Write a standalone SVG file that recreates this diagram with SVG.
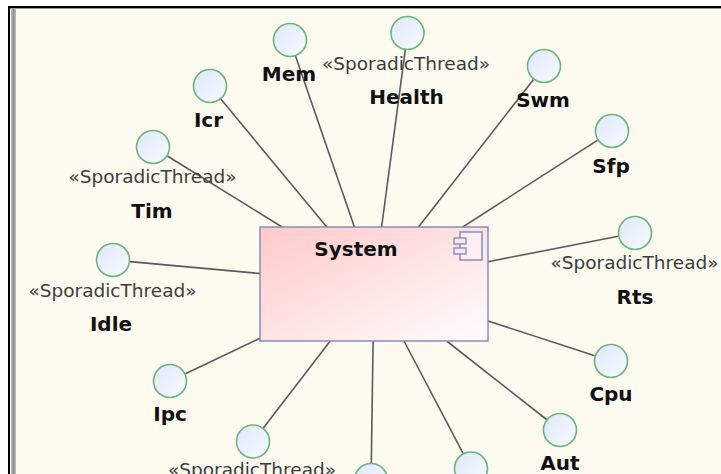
<svg xmlns="http://www.w3.org/2000/svg" width="721" height="474" viewBox="0 0 721 474">
  <defs>
    <linearGradient id="boxFill" x1="0" y1="0" x2="1" y2="1">
      <stop offset="0" stop-color="#FFC9C9"/>
      <stop offset="1" stop-color="#FFFDFD"/>
    </linearGradient>
    <linearGradient id="portFill" x1="0" y1="0" x2="1" y2="1">
      <stop offset="0" stop-color="#DFE9FA"/>
      <stop offset="1" stop-color="#F7FAFF"/>
    </linearGradient>
    <style>
      .port { fill: url(#portFill); stroke: #6DB37D; stroke-width: 1.6; }
      .link { stroke: #5A5A5A; stroke-width: 1.6; fill: none; }
      .name { font-family: "DejaVu Sans", "Liberation Sans", sans-serif; font-weight: bold; font-size: 20px; fill: #111; text-anchor: middle; }
      .stereo { font-family: "DejaVu Sans", "Liberation Sans", sans-serif; font-size: 18.5px; fill: #3C3C3C; text-anchor: middle; }
      .comp { fill: url(#boxFill); stroke: #7F87B8; stroke-width: 1.4; }
      .icon { fill: #FBE6EA; stroke: #7F87B8; stroke-width: 1.3; }
    </style>
  </defs>

  <!-- canvas and frame -->
  <rect x="0" y="0" width="721" height="474" fill="#FFFFFF"/>
  <rect x="10" y="8" width="711" height="466" fill="#FDFBEF"/>
  <rect x="11" y="9" width="5" height="465" fill="#B4B4B4"/>
  <rect x="12.5" y="9" width="2" height="465" fill="#939393"/>
  <rect x="10" y="8" width="711" height="1" fill="#9A9A9A"/>
  <rect x="8" y="6" width="713" height="2" fill="#000000"/>
  <rect x="8" y="6" width="2" height="468" fill="#000000"/>

  <!-- connectors: each port to the System component -->
  <g id="connectors">
    <line class="link" x1="295.5" y1="56.1" x2="354.4" y2="227"/>
    <line class="link" x1="405.3" y1="49.9" x2="381.6" y2="227"/>
    <line class="link" x1="220.8" y1="99.1" x2="326.8" y2="227"/>
    <line class="link" x1="533.5" y1="79.4" x2="418.5" y2="227"/>
    <line class="link" x1="167.4" y1="156" x2="282.1" y2="227"/>
    <line class="link" x1="597.7" y1="140.2" x2="462.7" y2="227"/>
    <line class="link" x1="129.9" y1="261.6" x2="260" y2="273.5"/>
    <line class="link" x1="618.3" y1="236.3" x2="488" y2="261.7"/>
    <line class="link" x1="185.4" y1="373.7" x2="260" y2="338.2"/>
    <line class="link" x1="594.8" y1="355.7" x2="488" y2="321"/>
    <line class="link" x1="263.4" y1="428" x2="330.2" y2="341"/>
    <line class="link" x1="546.6" y1="419.5" x2="446.6" y2="341"/>
    <line class="link" x1="371.3" y1="463" x2="373.1" y2="341"/>
    <line class="link" x1="463.1" y1="453.4" x2="404" y2="341"/>
  </g>

  <!-- component -->
  <g id="System">
    <rect class="comp" x="260" y="227" width="228" height="114"/>
    <rect class="comp" x="460" y="232" width="22" height="28" style="fill:#FDEFF2"/>
    <rect class="icon" x="454" y="238" width="12" height="6"/>
    <rect class="icon" x="454" y="248" width="12" height="6"/>
    <text class="name" x="356" y="256">System</text>
  </g>

  <!-- ports -->
  <g id="Mem">
    <circle class="port" cx="290" cy="40" r="16.5"/>
    <text class="name" x="289" y="81">Mem</text>
  </g>
  <g id="Health">
    <circle class="port" cx="407.5" cy="33" r="16.5"/>
    <text class="stereo" x="406" y="70">«SporadicThread»</text>
    <text class="name" x="406.5" y="104">Health</text>
  </g>
  <g id="Icr">
    <circle class="port" cx="210" cy="86" r="16.5"/>
    <text class="name" x="208.5" y="127">Icr</text>
  </g>
  <g id="Swm">
    <circle class="port" cx="544" cy="66" r="16.5"/>
    <text class="name" x="543" y="107">Swm</text>
  </g>
  <g id="Tim">
    <circle class="port" cx="153" cy="147" r="16.5"/>
    <text class="stereo" x="152.5" y="183">«SporadicThread»</text>
    <text class="name" x="152" y="218">Tim</text>
  </g>
  <g id="Sfp">
    <circle class="port" cx="612" cy="131" r="16.5"/>
    <text class="name" x="611" y="173">Sfp</text>
  </g>
  <g id="Idle">
    <circle class="port" cx="113" cy="260" r="16.5"/>
    <text class="stereo" x="112.5" y="297">«SporadicThread»</text>
    <text class="name" x="111" y="331">Idle</text>
  </g>
  <g id="Rts">
    <circle class="port" cx="635" cy="233" r="16.5"/>
    <text class="stereo" x="634.5" y="269">«SporadicThread»</text>
    <text class="name" x="635" y="304">Rts</text>
  </g>
  <g id="Ipc">
    <circle class="port" cx="170" cy="381" r="16.5"/>
    <text class="name" x="170" y="421">Ipc</text>
  </g>
  <g id="Cpu">
    <circle class="port" cx="611" cy="361" r="16.5"/>
    <text class="name" x="611" y="401">Cpu</text>
  </g>
  <g id="PortSW">
    <circle class="port" cx="253" cy="441.5" r="16.5"/>
    <text class="stereo" x="252" y="475.5">«SporadicThread»</text>
  </g>
  <g id="Aut">
    <circle class="port" cx="560" cy="430" r="16.5"/>
    <text class="name" x="560" y="470">Aut</text>
  </g>
  <g id="PortS">
    <circle class="port" cx="371" cy="480" r="16.5"/>
  </g>
  <g id="PortSE">
    <circle class="port" cx="471" cy="468.5" r="16.5"/>
  </g>
</svg>
